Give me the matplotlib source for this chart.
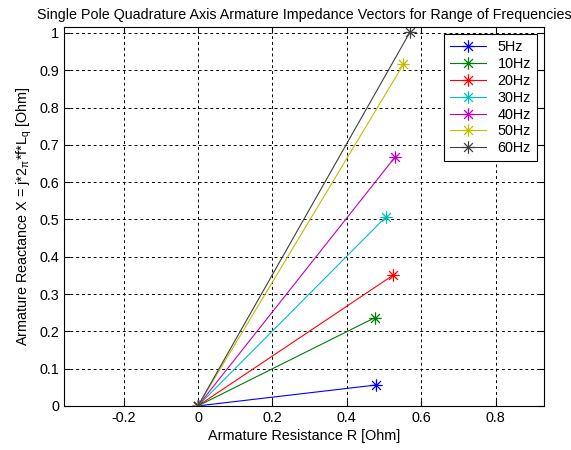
import matplotlib
matplotlib.use("Agg")
import matplotlib.pyplot as plt
from matplotlib.path import Path
import numpy as np

plt.rcParams['font.family'] = ['Liberation Sans', 'DejaVu Sans']
plt.rcParams['mathtext.fontset'] = 'custom'
plt.rcParams['mathtext.rm'] = 'Liberation Sans'
plt.rcParams['mathtext.it'] = 'Liberation Sans'

labels = ['5Hz', '10Hz', '20Hz', '30Hz', '40Hz', '50Hz', '60Hz']
resistance = [0.478, 0.476, 0.525, 0.505, 0.530, 0.552, 0.570]
reactance = [0.056, 0.237, 0.351, 0.507, 0.668, 0.916, 1.003]
colors = [(0, 0, 1), (0, 0.5, 0), (1, 0, 0), (0, 0.75, 0.75),
          (0.75, 0, 0.75), (0.75, 0.75, 0), (0.25, 0.25, 0.25)]

# MATLAB-style asterisk marker: '+' combined with 'x'
verts, codes = [], []
for ang in [0, 45, 90, 135]:
    a = np.deg2rad(ang)
    verts += [(-np.cos(a), -np.sin(a)), (np.cos(a), np.sin(a))]
    codes += [Path.MOVETO, Path.LINETO]
asterisk = Path(verts, codes)

fig = plt.figure(figsize=(5.71, 4.5), dpi=100)
ax = fig.add_axes([0.112, 0.098, 0.841, 0.842])

for lab, r, x, c in zip(labels, resistance, reactance, colors):
    ax.plot([0, r], [0, x], color=c, marker=asterisk, markersize=9, markeredgewidth=0.9,
            fillstyle='none', linewidth=0.8, label=lab)

ax.set_xlim(-0.36, 0.93)
ax.set_ylim(0, 1.016)
ax.set_xticks([-0.2, 0, 0.2, 0.4, 0.6, 0.8])
ax.set_xticklabels(['-0.2', '0', '0.2', '0.4', '0.6', '0.8'])
ax.set_yticks([0, 0.1, 0.2, 0.3, 0.4, 0.5, 0.6, 0.7, 0.8, 0.9, 1])
ax.set_yticklabels(['0', '0.1', '0.2', '0.3', '0.4', '0.5', '0.6', '0.7', '0.8', '0.9', '1'])
ax.tick_params(direction='in', top=True, right=True, labelsize=10.4, length=4, width=0.8)
ax.grid(True, color='black', linestyle=(0, (3, 3)), linewidth=0.7)
for s in ax.spines.values():
    s.set_linewidth(0.8)

ax.set_title('Single Pole Quadrature Axis Armature Impedance Vectors for Range of Frequencies',
             fontsize=10.3, pad=6)
ax.set_xlabel('Armature Resistance R [Ohm]', fontsize=10.4, labelpad=3)
ax.set_ylabel(r'Armature Reactance X = j*2$_{\mathregular{π}}$*f*L$_{\mathregular{q}}$ [Ohm]',
              fontsize=10.4, labelpad=4)

leg = ax.legend(loc='upper right', fontsize=10.4, fancybox=False, framealpha=1,
                edgecolor='black', borderaxespad=0.5, handlelength=2.5, labelspacing=0.2)
leg.get_frame().set_linewidth(0.8)

fig.savefig('out.png', dpi=100)
